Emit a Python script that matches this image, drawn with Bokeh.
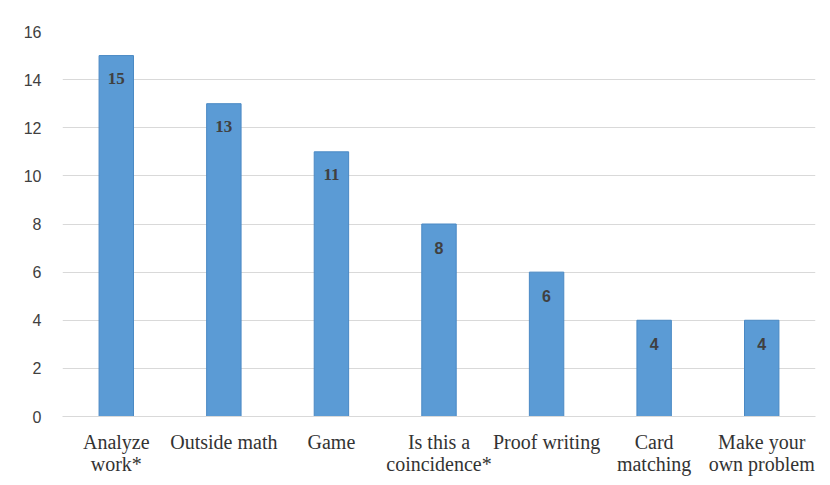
from bokeh.plotting import figure
from bokeh.models import ColumnDataSource, CDSView, IndexFilter, FixedTicker, Range1d
from bokeh.core.properties import value
from bokeh.embed import file_html
from bokeh.resources import INLINE

categories = ["Analyze\nwork*", "Outside math", "Game", "Is this a\ncoincidence*",
              "Proof writing", "Card\nmatching", "Make your\nown problem"]
counts = [15, 13, 11, 8, 6, 4, 4]
y_ticks = [0, 2, 4, 6, 8, 10, 12, 14, 16]

xs = list(range(len(categories)))
source = ColumnDataSource(data=dict(x=xs, count=counts, label=[str(c) for c in counts]))

p = figure(width=830, height=485, output_backend="svg", toolbar_location=None,
           x_range=Range1d(-0.5, len(categories) - 0.5), y_range=Range1d(0, 16),
           min_border_left=62, min_border_right=15, min_border_top=31, min_border_bottom=69)
p.outline_line_color = None
p.background_fill_color = "white"
p.border_fill_color = "white"

p.vbar(x="x", top="count", width=0.32, source=source,
       fill_color="#5B9BD5", line_color="#4A89C4", line_width=1)

serif_view = CDSView(filter=IndexFilter([0, 1, 2]))
sans_view = CDSView(filter=IndexFilter([3, 4, 5, 6]))
p.text(x="x", y="count", text="label", source=source, view=serif_view,
       text_align="center", text_baseline="middle", y_offset=23,
       text_font=value("Liberation Serif"), text_font_style="bold",
       text_font_size="17px", text_color="#404040")
p.text(x="x", y="count", text="label", source=source, view=sans_view,
       text_align="center", text_baseline="middle", y_offset=24,
       text_font=value("Liberation Sans"), text_font_style="bold",
       text_font_size="16px", text_color="#404040")

p.xgrid.grid_line_color = None
p.ygrid.grid_line_color = "#D9D9D9"
p.ygrid.grid_line_width = 1
p.yaxis.ticker = FixedTicker(ticks=y_ticks)
p.yaxis.axis_line_color = None
p.yaxis.major_tick_line_color = None
p.yaxis.minor_tick_line_color = None
p.yaxis.major_label_standoff = 15
p.yaxis.major_label_text_font = "Liberation Sans"
p.yaxis.major_label_text_font_size = "16px"
p.yaxis.major_label_text_color = "#404040"

p.xaxis.ticker = FixedTicker(ticks=xs)
p.xaxis.major_label_overrides = {i: c for i, c in zip(xs, categories)}
p.xaxis.axis_line_color = "#D9D9D9"
p.xaxis.major_tick_line_color = None
p.xaxis.minor_tick_line_color = None
p.xaxis.major_label_standoff = 8
p.xaxis.major_label_text_font = "Liberation Serif"
p.xaxis.major_label_text_font_size = "20px"
p.xaxis.major_label_text_line_height = 1.0
p.xaxis.major_label_text_color = "#333333"

open("out.html", "w").write(file_html(p, INLINE))
